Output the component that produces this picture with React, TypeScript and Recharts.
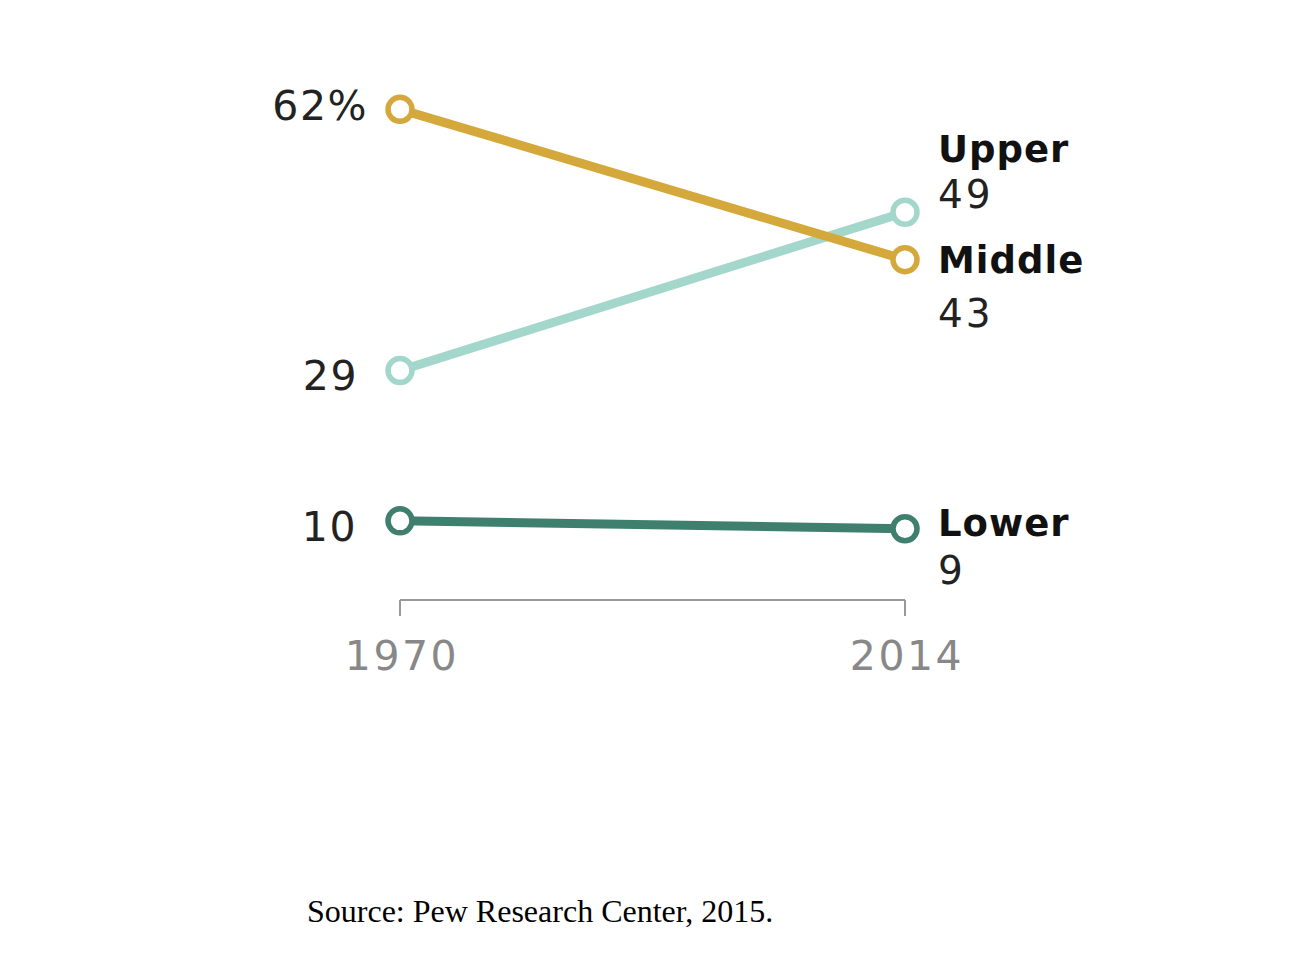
import { LineChart, Line, XAxis, YAxis, LabelList } from 'recharts';

const years = ['1970', '2014'];
const middle = [62, 43];
const upper = [29, 49];
const lower = [10, 9];

const data = years.map((year, i) => ({
  year,
  Middle: middle[i],
  Upper: upper[i],
  Lower: lower[i],
}));

const FONT = '"DejaVu Sans", sans-serif';

// label placement relative to each end point
const labelOffsets: Record<string, { left: [number, number]; name: number; value: number }> = {
  Middle: { left: [-32, 11], name: 13, value: 67 },
  Upper: { left: [-42, 20], name: -50, value: -4 },
  Lower: { left: [-43, 20], name: 7, value: 55 },
};

const makeLabel = (series: string) => (props: any) => {
  const { x, y, index, value } = props;
  const off = labelOffsets[series];
  if (index === 0) {
    const text = series === 'Middle' ? `${value}%` : `${value}`;
    return (
      <text x={x + off.left[0]} y={y + off.left[1]} textAnchor="end" fontFamily={FONT} fontSize={41} letterSpacing={1.5} fill="#222">
        {text}
      </text>
    );
  }
  return (
    <g>
      <text x={x + 33} y={y + off.name} fontFamily={FONT} fontWeight="bold" fontSize={37} letterSpacing={1} fill="#111">
        {series}
      </text>
      <text x={x + 33} y={y + off.value} fontFamily={FONT} fontSize={39} letterSpacing={3} fill="#222">
        {value}
      </text>
    </g>
  );
};

const YearTick = (props: any) => {
  const { x, y, payload } = props;
  return (
    <text x={x + 2} y={y + 54} textAnchor="middle" fontFamily={FONT} fontSize={41} letterSpacing={2.5} fill="#888">
      {payload.value}
    </text>
  );
};

const series = [
  { key: 'Upper', color: '#A4D7CB' },
  { key: 'Lower', color: '#3F7F6D' },
  { key: 'Middle', color: '#D5A83C' },
];

export default function App() {
  return (
    <div style={{ position: 'absolute', left: 0, top: 0, width: 1312, height: 974, background: '#fff' }}>
      <LineChart width={1312} height={974} data={data} margin={{ top: 46, right: 407, bottom: 294, left: 400 }}>
        <XAxis
          dataKey="year"
          padding={{ left: 0, right: 0 }}
          axisLine={{ stroke: '#999', strokeWidth: 2 }}
          tickLine={{ stroke: '#999', strokeWidth: 2 }}
          tickSize={16}
          tickMargin={0}
          tick={<YearTick />}
          height={80}
        />
        <YAxis hide domain={[0, 70]} />
        {series.map((s) => (
          <Line
            key={s.key}
            dataKey={s.key}
            stroke={s.color}
            strokeWidth={9}
            dot={{ r: 12, fill: '#fff', stroke: s.color, strokeWidth: 5.5 }}
            isAnimationActive={false}
          >
            <LabelList dataKey={s.key} content={makeLabel(s.key)} />
          </Line>
        ))}
      </LineChart>
      <svg width={1312} height={974} style={{ position: 'absolute', left: 0, top: 0, pointerEvents: 'none' }}>
        <text x={307} y={922} fontFamily='"Liberation Serif", "Times New Roman", serif' fontSize={32} fill="#000">
          Source: Pew Research Center, 2015.
        </text>
      </svg>
    </div>
  );
}
